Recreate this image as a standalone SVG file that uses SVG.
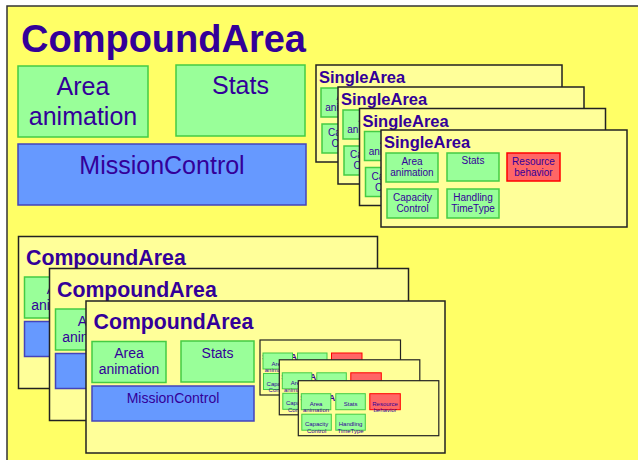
<svg xmlns="http://www.w3.org/2000/svg" xmlns:xlink="http://www.w3.org/1999/xlink" width="638" height="460" viewBox="0 0 638 460">
<style>
text{font-family:"Liberation Sans",Arial,sans-serif;fill:#330099}
.b{font-weight:bold}
.m{text-anchor:middle}
.frame{fill:#ffff66;stroke:#333;stroke-width:1.5}
.box{fill:#ffff99;stroke:#222;stroke-width:1.5}
.g{fill:#99ff99;stroke:#44cc44;stroke-width:1.5}
.bl{fill:#6699ff;stroke:#4444bb;stroke-width:1.5}
.r{fill:#ff6666;stroke:#ff0000;stroke-width:1.5}
.sg{fill:#99ff99;stroke:#44cc44;stroke-width:1}
.sr{fill:#ff6666;stroke:#ff0000;stroke-width:1}
.sbox{fill:#ffff99;stroke:#222;stroke-width:1.2}
</style>
<defs>
<g id="sa-big">
<rect class="box" x="0" y="0" width="246" height="97"/>
<text class="b" x="3" y="18" font-size="16.5">SingleArea</text>
<rect class="g" x="5" y="23" width="52" height="29"/>
<text class="m" x="31" y="35" font-size="10">Area</text>
<text class="m" x="31" y="46" font-size="10">animation</text>
<rect class="g" x="66" y="23" width="52" height="28"/>
<text class="m" x="92" y="34" font-size="10">Stats</text>
<rect class="r" x="126" y="23" width="53" height="28"/>
<text class="m" x="152.5" y="35" font-size="10">Resource</text>
<text class="m" x="152.5" y="46" font-size="10">behavior</text>
<rect class="g" x="6" y="59" width="51" height="29"/>
<text class="m" x="31.5" y="71" font-size="10">Capacity</text>
<text class="m" x="31.5" y="82" font-size="10">Control</text>
<rect class="g" x="66" y="59" width="52" height="29"/>
<text class="m" x="92" y="71" font-size="10">Handling</text>
<text class="m" x="92" y="82" font-size="10">TimeType</text>
</g>
<g id="sa-small">
<rect class="sbox" x="0" y="0" width="140.5" height="55"/>
<text class="b" x="2" y="20" font-size="9.4">SingleArea</text>
<rect class="sg" x="3" y="13" width="29.5" height="16"/>
<text class="m" x="17.75" y="25.5" font-size="6">Area</text>
<text class="m" x="17.75" y="31.8" font-size="6">animation</text>
<rect class="sg" x="37.5" y="13" width="29.5" height="16"/>
<text class="m" x="52.25" y="25.5" font-size="6">Stats</text>
<rect class="sr" x="71.5" y="13" width="30.5" height="16"/>
<text class="m" x="86.75" y="25.5" font-size="6">Resource</text>
<text class="m" x="86.75" y="31.8" font-size="6">behavior</text>
<rect class="sg" x="3.5" y="33.5" width="29.5" height="16"/>
<text class="m" x="18.25" y="45.5" font-size="6">Capacity</text>
<text class="m" x="18.25" y="52" font-size="6">Control</text>
<rect class="sg" x="37.5" y="33.5" width="29.5" height="16"/>
<text class="m" x="52.25" y="45.5" font-size="6">Handling</text>
<text class="m" x="52.25" y="52" font-size="6">TimeType</text>
</g>
<g id="ca-small">
<rect class="box" x="0" y="0" width="359" height="152"/>
<text class="b" x="7.5" y="28" font-size="21.3">CompoundArea</text>
<rect class="g" x="6" y="40.5" width="74" height="41"/>
<text class="m" x="43" y="57.3" font-size="14">Area</text>
<text class="m" x="43" y="73" font-size="14">animation</text>
<rect class="g" x="95" y="40" width="73" height="41"/>
<text class="m" x="131.5" y="57.3" font-size="14">Stats</text>
<rect class="bl" x="6" y="85" width="162" height="35"/>
<text class="m" x="87" y="101.7" font-size="14">MissionControl</text>
<use xlink:href="#sa-small" x="174" y="39"/>
<use xlink:href="#sa-small" x="193.3" y="58.8"/>
<use xlink:href="#sa-small" x="212.3" y="79.7"/>
</g>
</defs>
<g id="compound-area-main">
<rect class="frame" x="7" y="6" width="660" height="480"/>
<text class="b" x="21" y="52" font-size="38">CompoundArea</text>
</g>
<g id="area-animation">
<rect class="g" x="18" y="66" width="130" height="71"/>
<text class="m" x="83" y="95" font-size="25">Area</text>
<text class="m" x="83" y="125" font-size="25">animation</text>
</g>
<g id="stats">
<rect class="g" x="176" y="65" width="129" height="71"/>
<text class="m" x="240.5" y="94" font-size="25">Stats</text>
</g>
<g id="mission-control">
<rect class="bl" x="18" y="144" width="288" height="61"/>
<text class="m" x="162" y="174" font-size="25">MissionControl</text>
</g>
<g id="single-area-1"><use xlink:href="#sa-big" x="316" y="65"/></g>
<g id="single-area-2"><use xlink:href="#sa-big" x="338" y="87"/></g>
<g id="single-area-3"><use xlink:href="#sa-big" x="359.5" y="108.5"/></g>
<g id="single-area-4"><use xlink:href="#sa-big" x="381" y="130"/></g>
<g id="compound-area-a"><use xlink:href="#ca-small" x="18.5" y="236.5"/></g>
<g id="compound-area-b"><use xlink:href="#ca-small" x="49.5" y="268.5"/></g>
<g id="compound-area-c"><use xlink:href="#ca-small" x="86" y="301"/></g>
<g id="connectors"/>
</svg>
